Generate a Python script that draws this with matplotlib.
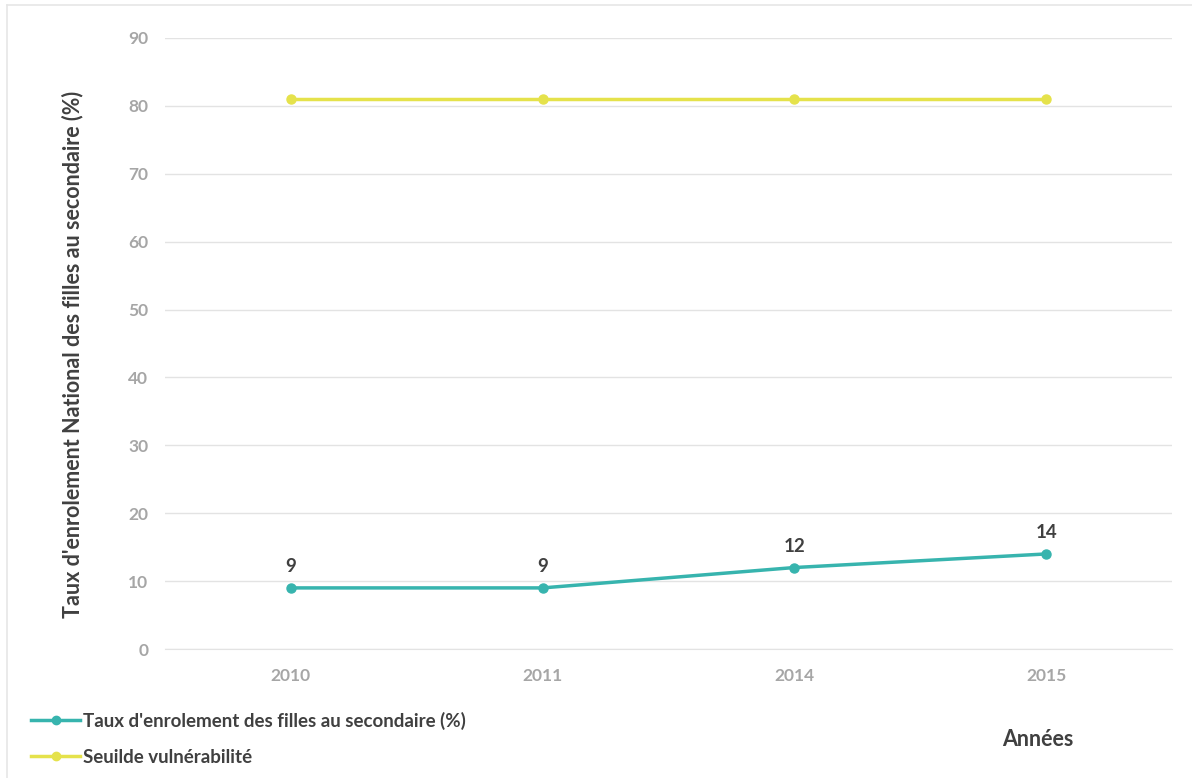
import matplotlib.pyplot as plt
from matplotlib.lines import Line2D

annees = ["2010", "2011", "2014", "2015"]
taux_filles = [9, 9, 12, 14]
seuil = [81, 81, 81, 81]

couleurTaux = "#37B4AE"
couleurSeuil = "#E5E24B"
gris = "#A6A6A6"
fonce = "#404040"

plt.rcParams['font.family'] = ['Lato', 'DejaVu Sans']
plt.rcParams['font.weight'] = 'bold'

fig = plt.figure(figsize=(11.92, 7.78), dpi=100)
ax = fig.add_axes([0.1384, 0.1658, 0.8448, 0.7854])

#Bordure legere du cadre
fig.add_artist(Line2D([7/1192, 1], [1 - 5/778, 1 - 5/778], color="#E6E6E6", lw=1.2))
fig.add_artist(Line2D([7/1192, 7/1192], [0, 1 - 5/778], color="#E6E6E6", lw=1.2))

x = list(range(len(annees)))

#Lignes des series
ax.plot(x, taux_filles, color=couleurTaux, lw=2.5, marker="o", ms=6.5, zorder=3)
ax.plot(x, seuil, color=couleurSeuil, lw=2.5, marker="o", ms=6.5, zorder=3)

#Etiquettes des valeurs
for i, v in enumerate(taux_filles):
    ax.annotate(str(v), (i, v), xytext=(0, 9), textcoords="offset points",
                ha="center", va="bottom", fontsize=13.5, color=fonce, fontweight="bold")

ax.set_xlim(-0.5, len(annees) - 0.5)
ax.set_ylim(0, 90)
ax.set_yticks(range(0, 91, 10))
ax.set_xticks(x)
ax.set_xticklabels(annees)
ax.grid(axis="y", color="#E3E3E3", lw=1)
ax.set_axisbelow(True)
for s in ["top", "right", "left"]:
    ax.spines[s].set_visible(False)
ax.spines["bottom"].set_color("#E3E3E3")
ax.tick_params(length=0, labelsize=12.5, labelcolor=gris)
ax.tick_params(axis="x", pad=14)
ax.tick_params(axis="y", pad=12)

fig.text(0.061, 0.545, "Taux d'enrolement National des filles au secondaire (%)",
         rotation=90, ha="center", va="center", fontsize=15.5, color=fonce, fontweight="bold")
fig.text(0.871, 0.049, "Années", ha="center", va="center", fontsize=15.5,
         color=fonce, fontweight="bold")

#Legende
handles = [Line2D([], [], color=couleurTaux, lw=2.5, marker="o", ms=6),
           Line2D([], [], color=couleurSeuil, lw=2.5, marker="o", ms=6)]
labels = ["Taux d'enrolement des filles au secondaire (%)", "Seuilde vulnérabilité"]
leg = fig.legend(handles, labels, loc="lower left", bbox_to_anchor=(0.012, -0.006),
                 frameon=False, fontsize=13.5, handlelength=2.6, handletextpad=0.15,
                 labelspacing=1.0, labelcolor=fonce)

plt.savefig("out.png", dpi=100)
